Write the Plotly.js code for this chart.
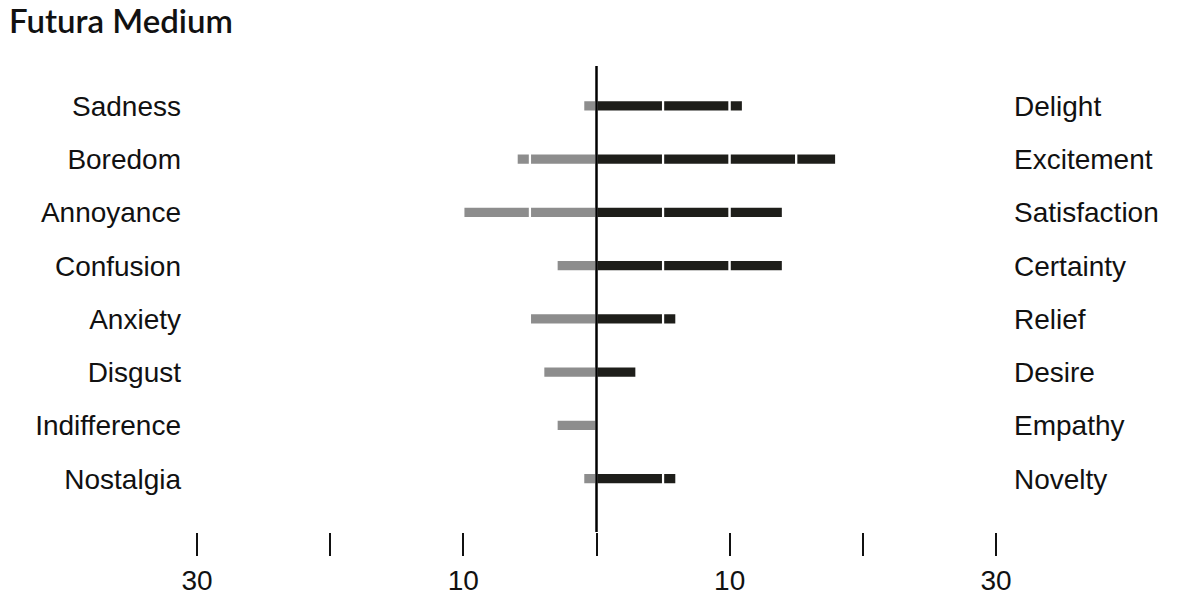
<!DOCTYPE html>
<html>
<head>
<meta charset="utf-8">
<script src="https://cdn.plot.ly/plotly-3.0.1.min.js"></script>
<style>
  html, body { margin: 0; padding: 0; background: #fff; }
  #chart { width: 1200px; height: 601px; }
</style>
</head>
<body>
<div id="chart"></div>
<script>
// negative emotions (left) and positive emotions (right), top to bottom
var negLabels = ["Sadness", "Boredom", "Annoyance", "Confusion", "Anxiety", "Disgust", "Indifference", "Nostalgia"];
var posLabels = ["Delight", "Excitement", "Satisfaction", "Certainty", "Relief", "Desire", "Empathy", "Novelty"];
var negValues = [1, 6, 10, 3, 5, 4, 3, 1];
var posValues = [11, 18, 14, 14, 6, 3, 0, 6];

var tickVals = [-30, -20, -10, 0, 10, 20, 30];
var tickText = ["30", "", "10", "", "10", "", "30"];

var chunk = 5;      // bars are split into blocks of 5
var nChunks = 4;
var darkColor = "#1e1e1a";
var greyColor = "#8d8d8d";

// split a value into one block of the stack
function piece(v, k) {
  var p = Math.min(Math.max(v - k * chunk, 0), chunk);
  return p > 0 ? p : null;
}

var data = [];
for (var k = 0; k < nChunks; k++) {
  data.push({
    type: "bar",
    orientation: "h",
    y: negLabels,
    x: negValues.map(function (v) { var p = piece(v, k); return p === null ? null : -p; }),
    yaxis: "y",
    width: 0.215,
    marker: { color: greyColor, line: { color: "#ffffff", width: 2.2 } },
    hoverinfo: "skip",
    showlegend: false
  });
  data.push({
    type: "bar",
    orientation: "h",
    y: posLabels,
    x: posValues.map(function (v) { return piece(v, k); }),
    yaxis: "y2",
    width: 0.215,
    marker: { color: darkColor, line: { color: "#ffffff", width: 2.2 } },
    hoverinfo: "skip",
    showlegend: false
  });
}

var yRange = [8.0, -0.75];
var labelFont = { family: "Liberation Sans, Arial, sans-serif", size: 28, color: "#111111" };

var layout = {
  width: 1200,
  height: 601,
  paper_bgcolor: "#ffffff",
  plot_bgcolor: "#ffffff",
  margin: { l: 197, r: 204, t: 66, b: 69 },
  barmode: "relative",
  bargap: 0,
  title: {
    text: "Futura Medium",
    font: { family: "Lato, sans-serif", size: 33, weight: 600, color: "#111111" },
    x: 9 / 1200,
    xref: "container",
    xanchor: "left",
    y: 1 - 21 / 601,
    yref: "container",
    yanchor: "middle"
  },
  xaxis: {
    range: [-30, 30],
    tickmode: "array",
    tickvals: tickVals,
    ticktext: tickText,
    ticks: "outside",
    ticklen: 23,
    tickwidth: 2,
    tickcolor: "#111111",
    showgrid: false,
    zeroline: false,
    showline: false,
    tickfont: labelFont,
    fixedrange: true
  },
  yaxis: {
    type: "category",
    range: yRange,
    showgrid: false,
    zeroline: false,
    showline: false,
    ticks: "",
    ticklabelstandoff: 15,
    tickfont: labelFont,
    fixedrange: true
  },
  yaxis2: {
    type: "category",
    overlaying: "y",
    side: "right",
    range: yRange,
    showgrid: false,
    zeroline: false,
    showline: false,
    ticks: "",
    ticklabelstandoff: 17,
    tickfont: labelFont,
    fixedrange: true
  },
  shapes: [{
    type: "line",
    xref: "x",
    yref: "paper",
    x0: 0, x1: 0,
    y0: 0, y1: 1,
    layer: "above",
    line: { color: "#000000", width: 2.5 }
  }]
};

Plotly.newPlot("chart", data, layout, { staticPlot: true, displayModeBar: false });
</script>
</body>
</html>
